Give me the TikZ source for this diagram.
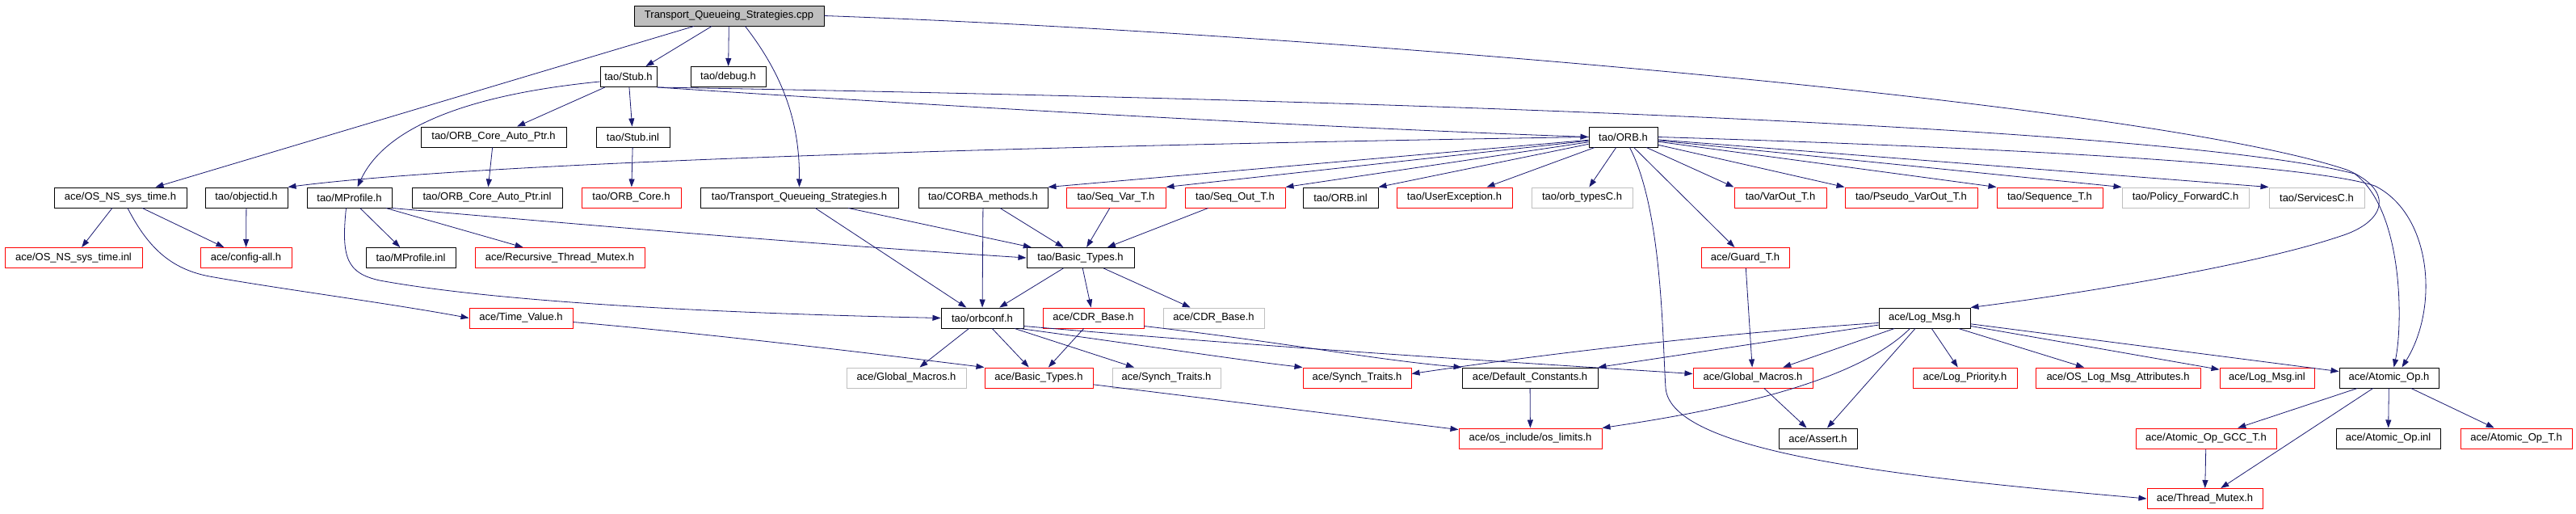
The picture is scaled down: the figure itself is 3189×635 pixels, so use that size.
\documentclass[tikz,border=0pt]{standalone}
\usepackage{fontspec}
\setmainfont{Liberation Sans}
\usetikzlibrary{arrows.meta}
\definecolor{edgeblue}{HTML}{191970}
\definecolor{boxred}{HTML}{FF0000}
\definecolor{boxgray}{HTML}{BFBFBF}

\begin{document}
\begin{tikzpicture}[x=1pt, y=-1pt,
    file/.style={draw=black, line width=1pt, minimum height=25pt, inner xsep=3pt, inner ysep=0pt,
                 font=\fontsize{13}{15}\selectfont},
    redfile/.style={file, draw=boxred},
    grayfile/.style={file, draw=boxgray},
    inc/.style={draw=edgeblue, line width=0.8pt, -{Triangle[length=10pt,width=7pt]}}]
\useasboundingbox (0,0) rectangle (3189,635);

% row 0 and 1
\node[file, fill=boxgray, minimum width=235pt] (root) at (902.5,19.5) {Transport\_Queueing\_Strategies.cpp};
\node[file, minimum width=70pt] (stub) at (778,95) {tao/Stub.h};
\node[file, minimum width=93pt] (debug) at (901.5,95) {tao/debug.h};
% row 2
\node[file, minimum width=180pt] (coreptr) at (611,169.5) {tao/ORB\_Core\_Auto\_Ptr.h};
\node[file, minimum width=91pt] (stubinl) at (783.5,169.5) {tao/Stub.inl};
\node[file, minimum width=85pt] (orb) at (2009.5,169.5) {tao/ORB.h};
% row 3
\node[file, minimum width=164pt] (systime) at (149,244.5) {ace/OS\_NS\_sys\_time.h};
\node[file, minimum width=102pt] (objectid) at (305,244.5) {tao/objectid.h};
\node[file, minimum width=105pt] (mprofile) at (432.5,244.5) {tao/MProfile.h};
\node[file, minimum width=186pt] (coreptrinl) at (603,244.5) {tao/ORB\_Core\_Auto\_Ptr.inl};
\node[redfile, minimum width=123pt] (orbcore) at (781.5,244.5) {tao/ORB\_Core.h};
\node[file, minimum width=245pt] (tqsh) at (989.5,244.5) {tao/Transport\_Queueing\_Strategies.h};
\node[file, minimum width=160pt] (corbameth) at (1217,244.5) {tao/CORBA\_methods.h};
\node[redfile, minimum width=123pt] (seqvar) at (1381.5,244.5) {tao/Seq\_Var\_T.h};
\node[redfile, minimum width=124pt] (seqout) at (1529,244.5) {tao/Seq\_Out\_T.h};
\node[file, minimum width=93pt] (orbinl) at (1659.5,244.5) {tao/ORB.inl};
\node[redfile, minimum width=143pt] (userexc) at (1800.5,244.5) {tao/UserException.h};
\node[grayfile, minimum width=125pt] (orbtypes) at (1958.5,244.5) {tao/orb\_typesC.h};
\node[redfile, minimum width=114pt] (varout) at (2204,244.5) {tao/VarOut\_T.h};
\node[redfile, minimum width=164pt] (pseudo) at (2366,244.5) {tao/Pseudo\_VarOut\_T.h};
\node[redfile, minimum width=131pt] (sequence) at (2537.5,244.5) {tao/Sequence\_T.h};
\node[grayfile, minimum width=157pt] (policy) at (2705.5,244.5) {tao/Policy\_ForwardC.h};
\node[grayfile, minimum width=118pt] (services) at (2868,244.5) {tao/ServicesC.h};
% row 4
\node[redfile, minimum width=170pt] (systimeinl) at (91,319) {ace/OS\_NS\_sys\_time.inl};
\node[redfile, minimum width=113pt] (configall) at (304.5,319) {ace/config-all.h};
\node[file, minimum width=111pt] (mprofileinl) at (508.5,319) {tao/MProfile.inl};
\node[redfile, minimum width=210pt] (recmutex) at (693,319) {ace/Recursive\_Thread\_Mutex.h};
\node[file, minimum width=133pt] (taobasic) at (1337.5,319) {tao/Basic\_Types.h};
\node[redfile, minimum width=109pt] (guard) at (2160.5,319) {ace/Guard\_T.h};
% row 5
\node[redfile, minimum width=128pt] (timevalue) at (645,393.5) {ace/Time\_Value.h};
\node[file, minimum width=102pt] (orbconf) at (1216,393.5) {tao/orbconf.h};
\node[redfile, minimum width=125pt] (cdrred) at (1353.5,393.5) {ace/CDR\_Base.h};
\node[grayfile, minimum width=125pt] (cdrgray) at (1502.5,393.5) {ace/CDR\_Base.h};
\node[file, minimum width=113pt] (logmsg) at (2382.5,393.5) {ace/Log\_Msg.h};
% row 6
\node[grayfile, minimum width=148pt] (gmacgray) at (1122,467.5) {ace/Global\_Macros.h};
\node[redfile, minimum width=134pt] (acebasic) at (1286,467.5) {ace/Basic\_Types.h};
\node[grayfile, minimum width=134pt] (synchgray) at (1444,467.5) {ace/Synch\_Traits.h};
\node[redfile, minimum width=134pt] (synchred) at (1680,467.5) {ace/Synch\_Traits.h};
\node[file, minimum width=168pt] (defconst) at (1894,467.5) {ace/Default\_Constants.h};
\node[redfile, minimum width=148pt] (gmacred) at (2170,467.5) {ace/Global\_Macros.h};
\node[redfile, minimum width=129pt] (logprio) at (2432.5,467.5) {ace/Log\_Priority.h};
\node[redfile, minimum width=204pt] (oslogattr) at (2622,467.5) {ace/OS\_Log\_Msg\_Attributes.h};
\node[redfile, minimum width=117pt] (logmsginl) at (2806.5,467.5) {ace/Log\_Msg.inl};
\node[file, minimum width=123pt] (atomic) at (2957.5,467.5) {ace/Atomic\_Op.h};
% row 7 and 8
\node[redfile, minimum width=177pt] (oslimits) at (1894.5,542.5) {ace/os\_include/os\_limits.h};
\node[file, minimum width=97pt] (assert) at (2250.5,542.5) {ace/Assert.h};
\node[redfile, minimum width=174pt] (atomicgcc) at (2731,542.5) {ace/Atomic\_Op\_GCC\_T.h};
\node[file, minimum width=129pt] (atomicinl) at (2956.5,542.5) {ace/Atomic\_Op.inl};
\node[redfile, minimum width=138pt] (atomict) at (3115,542.5) {ace/Atomic\_Op\_T.h};
\node[redfile, minimum width=143pt] (threadmutex) at (2729.5,617) {ace/Thread\_Mutex.h};

% includes of the .cpp file
\draw[inc] (root) -- (systime);
\draw[inc] (root) -- (stub);
\draw[inc] (root) -- (debug);
\draw[inc] ([xshift=20pt]root.south) .. controls (975,100) and (990,160) .. (tqsh.north);
\draw[inc] (root.east) .. controls (1600,40) and (2650,125) .. (2905,210)
  .. controls (2965,235) and (2955,275) .. (2895,293)
  .. controls (2800,325) and (2600,360) .. (logmsg.north east);

% tao/Stub.h
\draw[inc] (stub) -- (coreptr);
\draw[inc] (stub) -- (stubinl);
\draw[inc] ([yshift=-6pt]stub.west) .. controls (600,115) and (480,150) .. ([xshift=10pt]mprofile.north);
\draw[inc] (stub.south east) .. controls (1300,140) and (1700,160) .. (orb.west);
\draw[inc] (stub.south east) .. controls (1800,125) and (2700,160) .. (2915,215)
  .. controls (2975,260) and (2975,400) .. ([xshift=6pt]atomic.north);
\draw[inc] (stubinl) -- (orbcore);
\draw[inc] (coreptr) -- (coreptrinl);

% tao/ORB.h
\draw[inc] (orb.west) .. controls (1300,180) and (600,200) .. (objectid.north east);
\draw[inc] (orb) -- (corbameth.north east);
\draw[inc] (orb) -- (seqvar.north east);
\draw[inc] (orb) -- (seqout.north east);
\draw[inc] (orb) -- (orbinl.north east);
\draw[inc] (orb) -- ([xshift=40pt]userexc.north);
\draw[inc] (orb) -- (orbtypes);
\draw[inc] (orb) -- (guard);
\draw[inc] (orb) -- (varout.north west);
\draw[inc] (orb) -- (pseudo.north west);
\draw[inc] (orb) -- (sequence.north west);
\draw[inc] (orb) -- (policy.north west);
\draw[inc] (orb) -- (services.north west);
\draw[inc] (orb.east) .. controls (2400,180) and (2850,200) .. (2940,230)
  .. controls (3010,265) and (3020,380) .. ([xshift=16pt]atomic.north);
\draw[inc] ([xshift=8pt]orb.south) .. controls (2058,260) and (2058,420) .. (2062,480)
  .. controls (2068,560) and (2350,590) .. (threadmutex.west);

% ace/OS_NS_sys_time.h, tao/objectid.h, tao/MProfile.h
\draw[inc] (systime) -- (systimeinl);
\draw[inc] (systime) -- (configall);
\draw[inc] ([xshift=9pt]systime.south) .. controls (185,310) and (215,335) .. (265,343)
  .. controls (350,358) and (480,375) .. (timevalue.west);
\draw[inc] (objectid) -- (configall);
\draw[inc] (mprofile) -- (mprofileinl);
\draw[inc] (mprofile) -- (recmutex);
\draw[inc] (mprofile.south east) .. controls (800,285) and (1050,305) .. (taobasic.west);
\draw[inc] ([xshift=-4pt]mprofile.south) .. controls (422,320) and (430,338) .. (470,347)
  .. controls (650,380) and (1000,390) .. (orbconf.west);

% tao/Transport_Queueing_Strategies.h and its neighbours
\draw[inc] (tqsh) -- (taobasic);
\draw[inc] (tqsh) -- (orbconf);
\draw[inc] (corbameth) -- (orbconf);
\draw[inc] (corbameth) -- (taobasic);
\draw[inc] (seqvar) -- (taobasic);
\draw[inc] (seqout) -- (taobasic);
\draw[inc] (taobasic) -- (orbconf);
\draw[inc] (taobasic) -- (cdrred);
\draw[inc] (taobasic) -- (cdrgray);

% tao/orbconf.h, ace/CDR_Base.h, ace/Time_Value.h
\draw[inc] (orbconf) -- (gmacgray);
\draw[inc] (orbconf) -- (acebasic);
\draw[inc] (orbconf) -- (synchgray);
\draw[inc] ([xshift=-5pt]orbconf.south east) .. controls (1400,425) and (1530,445) .. (synchred.north west);
\draw[inc] ([yshift=-10pt]orbconf.east) .. controls (1600,432) and (1900,450) .. ([yshift=5pt]gmacred.west);
\draw[inc] (cdrred) -- (acebasic);
\draw[inc] ([yshift=-10pt]cdrred.east) .. controls (1600,425) and (1700,445) .. (defconst.north west);
\draw[inc] ([yshift=-5pt]timevalue.east) .. controls (900,415) and (1100,440) .. (acebasic.north west);
\draw[inc] (acebasic) -- (oslimits);
\draw[inc] (defconst) -- (oslimits);

% ace/Log_Msg.h
\draw[inc] ([yshift=-6pt]logmsg.west) .. controls (2100,415) and (1900,440) .. ([yshift=5pt]synchred.east);
\draw[inc] (logmsg) -- (defconst.north east);
\draw[inc] (logmsg) -- (gmacred);
\draw[inc] ([xshift=-18pt]logmsg.south) .. controls (2300,470) and (2150,505) .. (oslimits.north east);
\draw[inc] (logmsg) -- (assert);
\draw[inc] (logmsg) -- (logprio);
\draw[inc] (logmsg) -- (oslogattr);
\draw[inc] (logmsg) -- (logmsginl);
\draw[inc] (logmsg) -- (atomic);
\draw[inc] (gmacred) -- (assert);
\draw[inc] (guard) -- (gmacred);

% ace/Atomic_Op.h
\draw[inc] (atomic) -- (atomicgcc);
\draw[inc] (atomic) -- (threadmutex);
\draw[inc] (atomic) -- (atomicinl);
\draw[inc] (atomic) -- (atomict);
\draw[inc] (atomicgcc) -- (threadmutex);
\end{tikzpicture}
\end{document}
